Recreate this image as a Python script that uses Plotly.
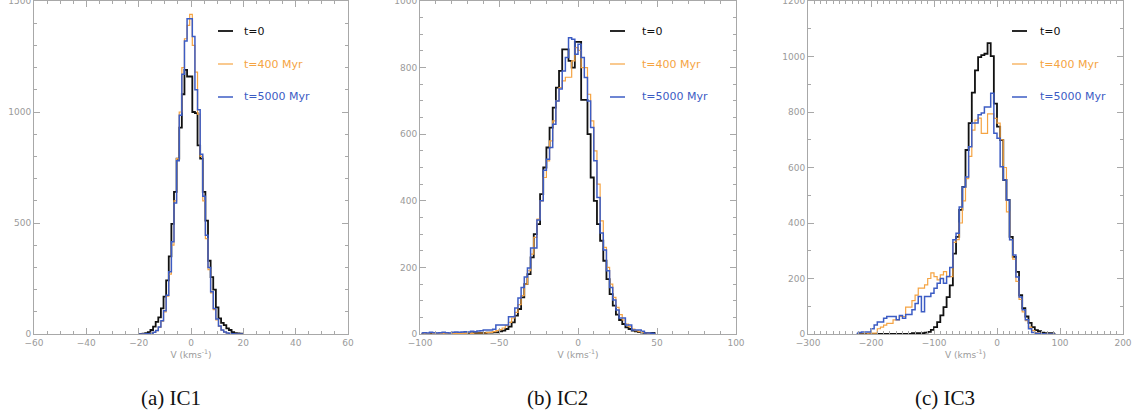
import plotly.graph_objects as go

W, H = 1141, 418

# ---------------- data ----------------
# Panel (a) IC1 : bin centres (km/s), bin width 1
V_A = list(range(-20, 21))
A_T0 = [0, 1, 2, 4, 8, 18, 33, 55, 75, 115, 168, 242, 350, 496, 640, 790, 930, 1080, 1190, 1160,
        1160, 1000, 995, 850, 790, 640, 511, 330, 256, 200, 120, 70, 50, 40, 25, 18, 8, 4, 3, 2, 1]
A_T400 = [0, 0, 1, 1, 2, 4, 7, 15, 30, 58, 100, 170, 270, 400, 600, 790, 1000, 1200, 1330, 1390,
          1440, 1300, 1180, 990, 800, 600, 430, 290, 185, 110, 64, 34, 17, 8, 4, 2, 1, 0, 0, 0, 0]
A_T5000 = [0, 0, 0, 1, 1, 3, 8, 16, 31, 60, 105, 175, 280, 415, 590, 780, 985, 1170, 1320, 1420,
           1420, 1340, 1100, 1010, 810, 620, 445, 300, 190, 115, 68, 36, 18, 9, 4, 2, 1, 0, 0, 0, 0]

# Panel (b) IC2 : bin centres (km/s), bin width 2
V_B = list(range(-99, 50, 2))
B_T0 = [0, 1, 0, 1, 0, 1, 1, 0, 1, 1, 1, 2, 1, 2, 2, 2, 2, 3, 3, 3,
        3, 4, 4, 5, 5, 8, 10, 15, 22, 35, 55, 75, 110, 150, 180, 230, 300, 330, 420, 500,
        560, 620, 680, 740, 790, 855, 855, 820, 800, 877, 877, 703, 703, 600, 470, 400, 330, 280, 220, 165,
        120, 85, 58, 42, 30, 20, 15, 10, 8, 6, 4, 3, 2, 3, 3]
B_T400 = [0, 1, 1, 0, 1, 1, 1, 1, 1, 2, 1, 2, 2, 2, 2, 3, 2, 3, 3, 3,
          3, 4, 5, 7, 10, 13, 18, 25, 35, 48, 65, 88, 115, 150, 190, 240, 290, 345, 400, 470,
          520, 580, 640, 700, 740, 760, 771, 771, 820, 860, 852, 800, 800, 720, 640, 550, 450, 340, 260, 200,
          150, 110, 80, 58, 42, 30, 22, 15, 10, 7, 5, 3, 2, 1, 1]
B_T5000 = [3, 4, 3, 5, 4, 3, 4, 5, 4, 3, 5, 6, 5, 6, 7, 6, 8, 7, 9, 10,
           12, 12, 12, 14, 27, 27, 27, 27, 52, 52, 78, 108, 140, 171, 198, 258, 258, 342, 400, 492,
           525, 560, 630, 700, 736, 790, 830, 890, 885, 840, 870, 830, 770, 700, 620, 520, 410, 303, 252, 190,
           140, 102, 72, 48, 48, 27, 27, 12, 12, 12, 8, 3, 3, 2, 1]

# Panel (c) IC3 : bin centres (km/s), bin width 5
V_C = [x + 2.5 for x in range(-225, 95, 5)]
C_T0 = [0, 0, 0, 0, 0, 0, 0, 0, 0, 0, 0, 0, 0, 0, 0, 0, 0, 0,
        3, 3, 3, 3, 5, 8, 15, 25, 43, 67, 97, 133, 175, 290, 350, 447, 530, 663, 760, 870, 950, 998,
        1005, 1010, 1048, 1001, 830, 747, 699, 555, 483, 350, 278, 224, 140, 93, 63, 40, 25, 14, 10, 5,
        3, 3, 3, 0]
C_T400 = [0, 0, 0, 0, 3, 3, 3, 19, 25, 32, 38, 38, 51, 51, 63, 63, 97, 97,
          120, 140, 165, 165, 177, 200, 220, 207, 195, 213, 225, 207, 207, 330, 340, 400, 480, 560, 640, 735, 771, 778,
          723, 723, 793, 793, 777, 760, 700, 600, 440, 340, 270, 190, 125, 80, 48, 25, 12, 5, 2, 1,
          0, 0, 0, 0]
C_T5000 = [3, 5, 7, 7, 7, 19, 32, 43, 43, 57, 63, 63, 63, 51, 67, 57, 70, 70,
           87, 110, 135, 80, 135, 135, 147, 165, 183, 200, 183, 207, 240, 340, 363, 458, 530, 566, 675, 760, 760, 790,
           796, 818, 818, 868, 723, 705, 603, 555, 483, 340, 285, 205, 133, 87, 51, 19, 5, 3, 2, 1,
           0, 0, 0, 0]

SERIES = ["t=0", "t=400 Myr", "t=5000 Myr"]
COLORS = ["#111111", "#f5a443", "#3c5cc4"]
WIDTHS = [1.8, 1.2, 1.5]
CAPTIONS = ["(a) IC1", "(b) IC2", "(c) IC3"]

panels = [
    dict(v=V_A, ys=[A_T0, A_T400, A_T5000], xr=[-60, 60], xd=20, xm=5, yr=[0, 1500], yd=500, ym=100,
         px=(34, 348), leg=(218, 242), cap=171),
    dict(v=V_B, ys=[B_T0, B_T400, B_T5000], xr=[-100, 100], xd=50, xm=10, yr=[0, 1000], yd=200, ym=50,
         px=(420, 736), leg=(610, 640), cap=557),
    dict(v=V_C, ys=[C_T0, C_T400, C_T5000], xr=[-300, 200], xd=100, xm=10, yr=[0, 1200], yd=200, ym=100,
         px=(808, 1123), leg=(1012, 1038), cap=945),
]

for p in panels:
    for y in p["ys"]:
        assert len(y) == len(p["v"]), (len(y), len(p["v"]))

fig = go.Figure()
AX = "#a8a8a8"
TICKFONT = dict(family="DejaVu Sans", size=9, color="#9a9a9a")
y_top, y_bot = 1, 334
legend_y = [31, 64, 97]

shapes, annots = [], []
for i, p in enumerate(panels):
    n = "" if i == 0 else str(i + 1)
    for k in range(3):
        fig.add_trace(go.Scatter(
            x=p["v"], y=p["ys"][k], mode="lines", line=dict(shape="hvh", color=COLORS[k], width=WIDTHS[k]),
            xaxis="x" + n, yaxis="y" + n, showlegend=False, name=SERIES[k]))
    x0, x1 = p["px"]
    fig.layout["xaxis" + n] = dict(
        domain=[x0 / W, x1 / W], range=p["xr"], anchor="y" + n, dtick=p["xd"], tick0=0, automargin=False,
        showgrid=False, zeroline=False, showline=True, linecolor=AX, linewidth=1, mirror="allticks",
        ticks="inside", ticklen=6, tickcolor=AX, tickfont=TICKFONT, ticklabeloverflow="allow",
        minor=dict(ticks="inside", ticklen=3, dtick=p["xm"], tickcolor=AX, showgrid=False),
        title=dict(text="V (kms<sup>-1</sup>)", font=dict(family="DejaVu Sans", size=9, color="#9a9a9a"),
                   standoff=0))
    fig.layout["yaxis" + n] = dict(
        domain=[1 - y_bot / H, 1 - y_top / H], range=p["yr"], anchor="x" + n, dtick=p["yd"], tick0=0,
        automargin=False,
        showgrid=False, zeroline=False, showline=True, linecolor=AX, linewidth=1, mirror="allticks",
        ticks="inside", ticklen=6, tickcolor=AX, tickfont=TICKFONT, ticklabeloverflow="allow",
        minor=dict(ticks="inside", ticklen=3, dtick=p["ym"], tickcolor=AX, showgrid=False))
    lx, tx = p["leg"]
    for k in range(3):
        yy = 1 - legend_y[k] / H
        shapes.append(dict(type="line", xref="paper", yref="paper", x0=lx / W, x1=(lx + 15) / W,
                           y0=yy, y1=yy, line=dict(color=COLORS[k], width=WIDTHS[k])))
        annots.append(dict(text=SERIES[k], xref="paper", yref="paper", x=tx / W, y=yy, xanchor="left",
                           yanchor="middle", showarrow=False,
                           font=dict(family="DejaVu Sans", size=11, color=COLORS[k])))
    annots.append(dict(text=CAPTIONS[i], xref="paper", yref="paper", x=p["cap"] / W,
                       y=1 - 398 / H, xanchor="center", yanchor="middle", showarrow=False,
                       font=dict(family="Liberation Serif", size=21, color="#111111")))

fig.update_layout(width=W, height=H, margin=dict(l=0, r=0, t=0, b=0), paper_bgcolor="white",
                  plot_bgcolor="white", shapes=shapes, annotations=annots, hovermode=False)
fig.write_html("out.html", config={"displayModeBar": False, "staticPlot": True},
               post_script="document.body.style.margin='0';document.body.style.overflow='hidden';")
